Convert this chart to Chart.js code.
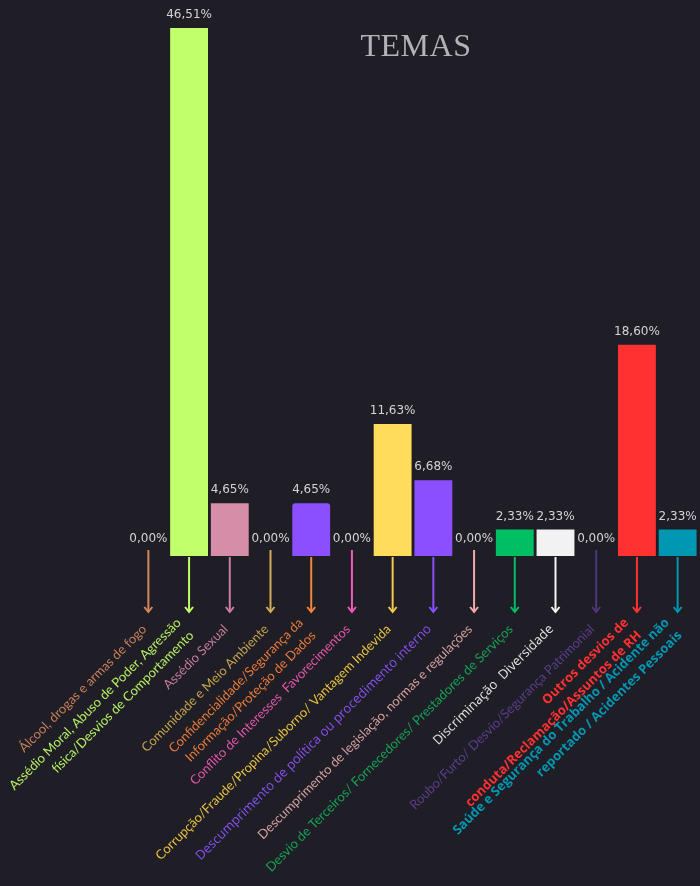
<!DOCTYPE html>
<html>
<head>
<meta charset="utf-8">
<script src="https://cdn.jsdelivr.net/npm/chart.js@4"></script>
<style>
  html, body { margin: 0; padding: 0; background: #1f1e26; }
  #wrap { width: 700px; height: 886px; position: relative; }
</style>
</head>
<body>
<div id="wrap"><canvas id="temasChart" width="700" height="886"></canvas></div>
<script>
// categories (one array per tick, lines split as in the picture)
const categories = [
  ["Álcool, drogas e armas de fogo"],
  ["Assédio Moral, Abuso de Poder, Agressão", "física/Desvios de Comportamento"],
  ["Assédio Sexual"],
  ["Comunidade e Meio Ambiente"],
  ["Confidencialidade/Segurança da", "Informação/Proteção de Dados"],
  ["Conflito de Interesses  Favorecimentos"],
  ["Corrupção/Fraude/Propina/Suborno/ Vantagem Indevida"],
  ["Descumprimento de política ou procedimento interno"],
  ["Descumprimento de legislação, normas e regulações"],
  ["Desvio de Terceiros/ Fornecedores/ Prestadores de Serviços"],
  ["Discriminação  Diversidade"],
  ["Roubo/Furto/ Desvio/Segurança Patrimonial"],
  ["Outros desvios de", "conduta/Reclamação/Assuntos de RH"],
  ["Saúde e Segurança do Trabalho / Acidente não", "reportado / Acidentes Pessoais"]
];
const values = [0, 46.51, 4.65, 0, 4.65, 0, 11.63, 6.68, 0, 2.33, 2.33, 0, 18.60, 2.33];

const barColors = ["#d4885c", "#c1ff6b", "#d68ea8", "#c9a655", "#8c4fff", "#e85cb4",
  "#ffdc5c", "#8c4fff", "#f2a8a8", "#00bf63", "#f2f2f2", "#5a3a8a", "#ff3131", "#0097b2"];
const labelColors = ["#c8805a", "#b6ef62", "#c47e9c", "#c4a24e", "#ec7a38", "#e455ae",
  "#e6c240", "#8a50f5", "#d6a0a0", "#14a255", "#e4e4e4", "#5b3e8e", "#ff3131", "#0097b2"];
const arrowColors = ["#d4885c", "#c1ff6b", "#c97f9f", "#d2ad5a", "#f5843c", "#ee5cb7",
  "#f2cc48", "#8c4fff", "#f2aaaa", "#00bf63", "#f5f5f5", "#4f3780", "#ff3131", "#0097b2"];
const labelFonts = ["Lato", "Lato", "Lato", "Lato", "Lato", "Lato", "Lato",
  "Open Sans", "Lato", "Lato", "Open Sans", "Lato", "Open Sans", "Open Sans"];
const labelWeights = [400, 400, 400, 400, 400, 400, 400, 500, 400, 400, 400, 400, 700, 700];

const fmt = v => v.toFixed(2).replace(".", ",") + "%";

// title, value labels, arrows and the rotated category labels
const decorations = {
  id: "decorations",
  afterDatasetsDraw(chart) {
    const ctx = chart.ctx;
    const meta = chart.getDatasetMeta(0);
    const xScale = chart.scales.x;
    const base = chart.scales.y.getPixelForValue(0);
    ctx.save();
    meta.data.forEach((bar, i) => {
      const v = values[i];
      ctx.font = "12px 'DejaVu Sans'";
      ctx.textAlign = "center";
      ctx.textBaseline = "middle";
      ctx.fillStyle = "#d4d4d6";
      const ty = v > 0 ? bar.y - 13 : base - 17;
      ctx.fillText(fmt(v), bar.x, ty);

      // arrow
      const top = v > 0 ? base + 1 : base - 6;
      const end = 612;
      ctx.strokeStyle = arrowColors[i];
      ctx.lineWidth = 2;
      ctx.beginPath();
      ctx.moveTo(bar.x, top);
      ctx.lineTo(bar.x, end);
      ctx.stroke();
      ctx.beginPath();
      ctx.moveTo(bar.x - 4, end - 5);
      ctx.lineTo(bar.x, end);
      ctx.lineTo(bar.x + 4, end - 5);
      ctx.stroke();
    });

    // category labels, lines centred on the tick
    const lh = 18;
    categories.forEach((lines, i) => {
      const px = xScale.getPixelForTick(i);
      ctx.save();
      ctx.translate(px - 4, xScale.top + 71);
      ctx.rotate(-Math.PI / 4);
      ctx.font = labelWeights[i] + " 13px '" + labelFonts[i] + "'";
      ctx.fillStyle = labelColors[i];
      ctx.textAlign = "right";
      ctx.textBaseline = "middle";
      lines.forEach((line, j) => {
        ctx.fillText(line, 0, (j - (lines.length - 1) / 2) * lh);
      });
      ctx.restore();
    });

    ctx.fillStyle = "#b2b2b7";
    ctx.font = "32px 'Liberation Serif'";
    ctx.letterSpacing = "0.5px";
    ctx.textAlign = "center";
    ctx.textBaseline = "alphabetic";
    ctx.fillText("TEMAS", 416, 56);
    ctx.restore();
  }
};

new Chart(document.getElementById("temasChart").getContext("2d"), {
  type: "bar",
  data: {
    labels: categories,
    datasets: [{
      data: values,
      backgroundColor: barColors,
      borderWidth: 0,
      borderRadius: c => (c.dataIndex === 4 ? { topLeft: 3, topRight: 3 } : 0),
      categoryPercentage: 1,
      barPercentage: 0.93
    }]
  },
  options: {
    responsive: false,
    animation: false,
    layout: { padding: { top: 28, left: 128, right: 2, bottom: 0 } },
    plugins: { legend: { display: false }, tooltip: { enabled: false } },
    scales: {
      y: { display: false, min: 0, max: 46.51 },
      x: {
        grid: { display: false, drawTicks: false },
        border: { display: false },
        ticks: { display: false },
        afterFit: scale => {
          scale.height = 330;
          scale.paddingLeft = 0;
          scale.paddingRight = 0;
        }
      }
    }
  },
  plugins: [decorations]
});
</script>
</body>
</html>
